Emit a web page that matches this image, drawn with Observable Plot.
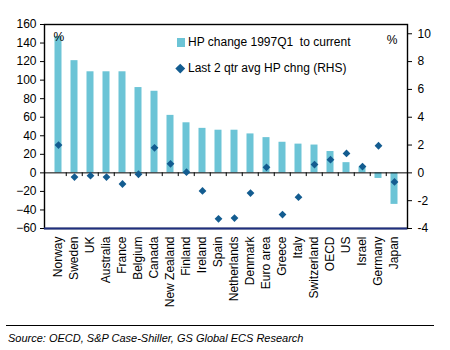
<!DOCTYPE html>
<html><head><meta charset="utf-8">
<script src="https://cdn.jsdelivr.net/npm/d3@7"></script>
<script src="https://cdn.jsdelivr.net/npm/@observablehq/plot@0.6"></script>
<style>
body{margin:0;background:#fff;font-family:"Liberation Sans",Arial,sans-serif;}
#wrap{position:relative;width:450px;height:325px;}
#legend{position:absolute;left:177px;top:34px;font-size:12px;color:#000;}
.li{position:relative;height:26px;line-height:16px;padding-left:11px;}
.sq{position:absolute;left:0;top:4px;width:8px;height:9px;background:#6cc4d6;}
.dm{position:absolute;left:0;top:4.5px;width:6.5px;height:6.5px;background:#135c90;transform:rotate(45deg);}
#src{margin:0 16px 0 6px;border-top:1px solid #000;padding:6px 0 0 2px;font-size:11px;font-style:italic;color:#000;width:426px;}
</style></head><body>
<div id="wrap"><div id="chart"></div>
<div id="legend">
<div class="li"><span class="sq"></span>HP change 1997Q1&nbsp; to current</div>
<div class="li"><span class="dm"></span>Last 2 qtr avg HP chng (RHS)</div>
</div></div>
<div id="src">Source: OECD, S&amp;P Case-Shiller, GS Global ECS Research</div>
<script>
const categories = ["Norway","Sweden","UK","Australia","France","Belgium","Canada","New Zealand","Finland","Ireland","Spain","Netherlands","Denmark","Euro area","Greece","Italy","Switzerland","OECD","US","Israel","Germany","Japan"];
const hpChange = [147,121,109,109,109,92,88,62,54,48,46,46,42,38,33,31,30,23,11,6,-6,-34];
const lastTwoQtr = [2.0,-0.3,-0.2,-0.3,-0.8,-0.1,1.8,0.65,0.05,-1.3,-3.3,-3.25,-1.45,0.4,-3.0,-1.75,0.6,0.95,1.4,0.45,1.95,-0.65];
const leftTicks = [-60,-40,-20,0,20,40,60,80,100,120,140,160];
const rightTicks = [-4,-2,0,2,4,6,8,10];
const ratio = 15; // 160 / (10 2/3)

const data = categories.map((c,i)=>({cat:c, hp:hpChange[i], rhs:lastTwoQtr[i]}));

const chart = Plot.plot({
  width:450, height:325,
  marginLeft:44, marginRight:43, marginTop:24, marginBottom:97,
  style:{fontFamily:"Liberation Sans, Arial, sans-serif", fontSize:"12px", color:"#000", background:"#fff"},
  x:{type:"band", domain:categories, padding:0},
  y:{domain:[-60,160]},
  marks:[
    Plot.barY(data,{x:"cat", y:"hp", fill:"#6cc4d6", insetLeft:4.5, insetRight:4.5}),
    Plot.ruleY([0],{stroke:"#000", strokeWidth:1}),
    Plot.ruleX(categories.slice(1),{x:d=>d, dx:-8.25, y1:0, y2:-4, stroke:"#000"}),
    Plot.dot(data,{x:"cat", y:d=>d.rhs*ratio, symbol:"square", rotate:45, r:3.1, fill:"#135c90", stroke:null}),
    Plot.frame({stroke:"#000", strokeWidth:1.4}),
    Plot.ruleY([-60],{stroke:"#1f2f7f", strokeWidth:2}),
    Plot.axisY({anchor:"left", ticks:leftTicks, tickSize:4, tickPadding:4, label:null, fontSize:12}),
    Plot.axisY({anchor:"right", ticks:rightTicks.map(v=>v*ratio), tickFormat:d=>String(Math.round(d/ratio)), tickSize:4, tickPadding:6, label:null, fontSize:12}),
    Plot.axisX({anchor:"bottom", tickSize:0, tickRotate:-90, tickPadding:8, label:null, fontSize:12}),
    Plot.text(["%"],{frameAnchor:"top-left", dx:9, dy:8, fontSize:12}),
    Plot.text(["%"],{frameAnchor:"top-right", dx:-10, dy:11, fontSize:12})
  ]
});
document.getElementById("chart").appendChild(chart);
</script>
</body></html>
